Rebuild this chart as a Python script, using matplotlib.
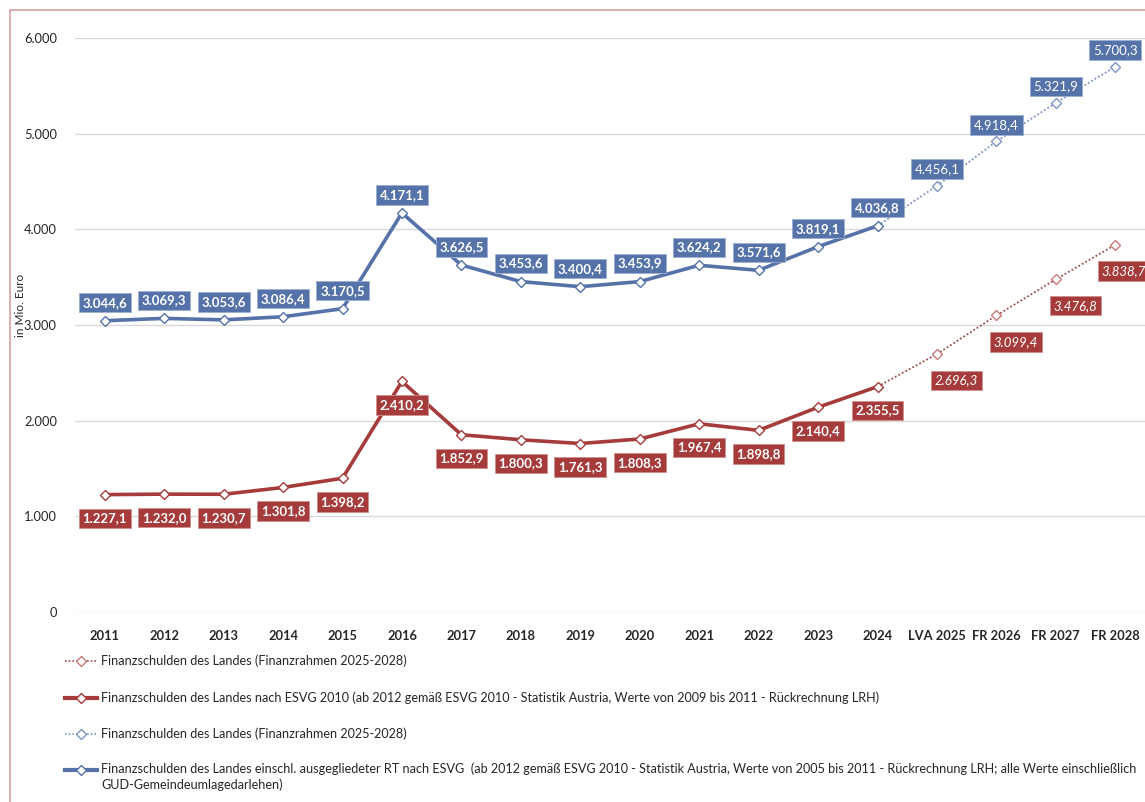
import matplotlib.pyplot as plt
from matplotlib.lines import Line2D
from matplotlib.patches import Rectangle
from matplotlib.ticker import FuncFormatter

plt.rcParams['font.family'] = ['Lato', 'DejaVu Sans']

years = ['2011', '2012', '2013', '2014', '2015', '2016', '2017', '2018', '2019',
         '2020', '2021', '2022', '2023', '2024', 'LVA 2025', 'FR 2026', 'FR 2027', 'FR 2028']
blue_ist = [3044.6, 3069.3, 3053.6, 3086.4, 3170.5, 4171.1, 3626.5, 3453.6, 3400.4,
            3453.9, 3624.2, 3571.6, 3819.1, 4036.8]
red_ist = [1227.1, 1232.0, 1230.7, 1301.8, 1398.2, 2410.2, 1852.9, 1800.3, 1761.3,
           1808.3, 1967.4, 1898.8, 2140.4, 2355.5]
blue_plan = [4456.1, 4918.4, 5321.9, 5700.3]
red_plan = [2696.3, 3099.4, 3476.8, 3838.7]

leg_labels = [
    'Finanzschulden des Landes (Finanzrahmen 2025-2028)',
    'Finanzschulden des Landes nach ESVG 2010 (ab 2012 gemäß ESVG 2010 - Statistik Austria, '
    'Werte von 2009 bis 2011 - Rückrechnung LRH)',
    'Finanzschulden des Landes (Finanzrahmen 2025-2028)',
    'Finanzschulden des Landes einschl. ausgegliedeter RT nach ESVG  (ab 2012 gemäß ESVG 2010 - '
    'Statistik Austria, Werte von 2005 bis 2011 - Rückrechnung LRH; alle Werte einschließlich\n'
    'GUD-Gemeindeumlagedarlehen)',
]

BLUE = '#5572A9'
RED = '#A63B3B'
BLUE_LIGHT = '#7D95C4'
RED_DOT = '#9E4B4B'
RED_LIGHT = '#C97A7A'


def de(v, dec=1):
    s = f'{v:,.{dec}f}'
    return s.replace(',', 'X').replace('.', ',').replace('X', '.')


fig = plt.figure(figsize=(11.45, 8.02), dpi=100)
ax = fig.add_axes([75 / 1145, 190 / 802, 1 - 75 / 1145, 574 / 802])

n_ist = len(blue_ist)
x_ist = list(range(n_ist))
x_plan = list(range(n_ist - 1, len(years)))

# forecast lines start at the last actual value
ax.plot(x_plan, [red_ist[-1]] + red_plan, ls=(0, (1, 1.2)), lw=1.3, color=RED_DOT,
        marker='D', ms=5.5, mfc='white', mec=RED_LIGHT, mew=1.0, markevery=[1, 2, 3, 4],
        zorder=3, clip_on=False)
ax.plot(x_plan, [blue_ist[-1]] + blue_plan, ls=(0, (1, 1.2)), lw=1.3, color=BLUE_LIGHT,
        marker='D', ms=5.5, mfc='white', mec=BLUE_LIGHT, mew=1.0, markevery=[1, 2, 3, 4],
        zorder=3, clip_on=False)
ax.plot(x_ist, red_ist, color=RED, lw=2.6, marker='D', ms=5.5, mfc='white', mec=RED,
        mew=1.0, zorder=4, solid_joinstyle='miter')
ax.plot(x_ist, blue_ist, color=BLUE, lw=2.6, marker='D', ms=5.5, mfc='white', mec=BLUE,
        mew=1.0, zorder=4, solid_joinstyle='miter')

box = dict(boxstyle='square,pad=0.28', lw=0.6)
for xi, v in zip(x_ist, blue_ist):
    ax.annotate(de(v), (xi, v), xytext=(0, 13), textcoords='offset points',
                ha='center', va='center', color='white', fontsize=9.5, fontweight='bold',
                bbox={**box, 'fc': BLUE, 'ec': '#9DB0D4'}, zorder=6)
for xi, v in zip(x_ist, red_ist):
    ax.annotate(de(v), (xi, v), xytext=(0, -17), textcoords='offset points',
                ha='center', va='center', color='white', fontsize=9.5, fontweight='bold',
                bbox={**box, 'fc': RED, 'ec': '#D09090'}, zorder=6)
for xi, v in zip(x_plan[1:], blue_plan):
    ax.annotate(de(v), (xi, v), xytext=(0, 12), textcoords='offset points',
                ha='center', va='center', color='white', fontsize=9.5,
                bbox={**box, 'fc': BLUE, 'ec': '#9DB0D4'}, zorder=6, annotation_clip=False)
red_dx = [14, 14, 14, 6]  # last label pulled in so it stays on the canvas
for xi, v, dx in zip(x_plan[1:], red_plan, red_dx):
    ax.annotate(de(v), (xi, v), xytext=(dx, -19), textcoords='offset points',
                ha='center', va='center', color='white', fontsize=9.5, style='italic',
                bbox={**box, 'fc': RED, 'ec': '#D09090'}, zorder=6, annotation_clip=False)

ax.set_xlim(-0.5, len(years) - 0.5)
ax.set_ylim(0, 6000)
ax.set_yticks(range(0, 6001, 1000))
ax.yaxis.set_major_formatter(FuncFormatter(lambda v, p: de(v, 0)))
ax.set_xticks(range(len(years)))
ax.set_xticklabels(years, fontweight='bold')
ax.tick_params(axis='both', length=0, labelsize=9.3, colors='#262626')
ax.tick_params(axis='x', pad=13)
ax.tick_params(axis='y', pad=13)
ax.grid(axis='y', color='#D9D9D9', lw=1.0)
ax.set_axisbelow(True)
for s in ax.spines.values():
    s.set_visible(False)

fig.text(21 / 1145, 1 - 305 / 802, 'in Mio. Euro', rotation=90, ha='center', va='center',
         fontsize=8.5, color='#262626')

# legend drawn row by row below the plot
leg_styles = [
    dict(color=RED_DOT, lw=1.2, ls=(0, (1, 1.2))),
    dict(color=RED, lw=3.0, ls='-'),
    dict(color=BLUE_LIGHT, lw=1.2, ls=(0, (1, 1.2))),
    dict(color=BLUE, lw=3.0, ls='-'),
]
leg_mec = [RED_LIGHT, RED, BLUE_LIGHT, BLUE]
leg_rows = [661, 698, 734, 770]
for y_px, st, mec, lab in zip(leg_rows, leg_styles, leg_mec, leg_labels):
    yf = 1 - y_px / 802
    fig.add_artist(Line2D([65 / 1145, 97 / 1145], [yf, yf], transform=fig.transFigure, **st))
    fig.add_artist(Line2D([81 / 1145], [yf], transform=fig.transFigure, marker='D', ms=5,
                          mfc='white', mec=mec, mew=1.0, ls='none'))
    if '\n' in lab:
        fig.text(101 / 1145, 1 - (y_px - 8) / 802, lab, ha='left', va='top',
                 fontsize=9.05, color='#262626', linespacing=1.35)
    else:
        fig.text(101 / 1145, yf, lab, ha='left', va='center', fontsize=9.05, color='#262626')

# outer chart frame
fig.add_artist(Rectangle((10 / 1145, -0.1), 1.2, 1 - 10 / 802 + 0.1, transform=fig.transFigure,
                         fill=False, ec='#D9A0A0', lw=1.2))

fig.savefig('out.png', dpi=100)
